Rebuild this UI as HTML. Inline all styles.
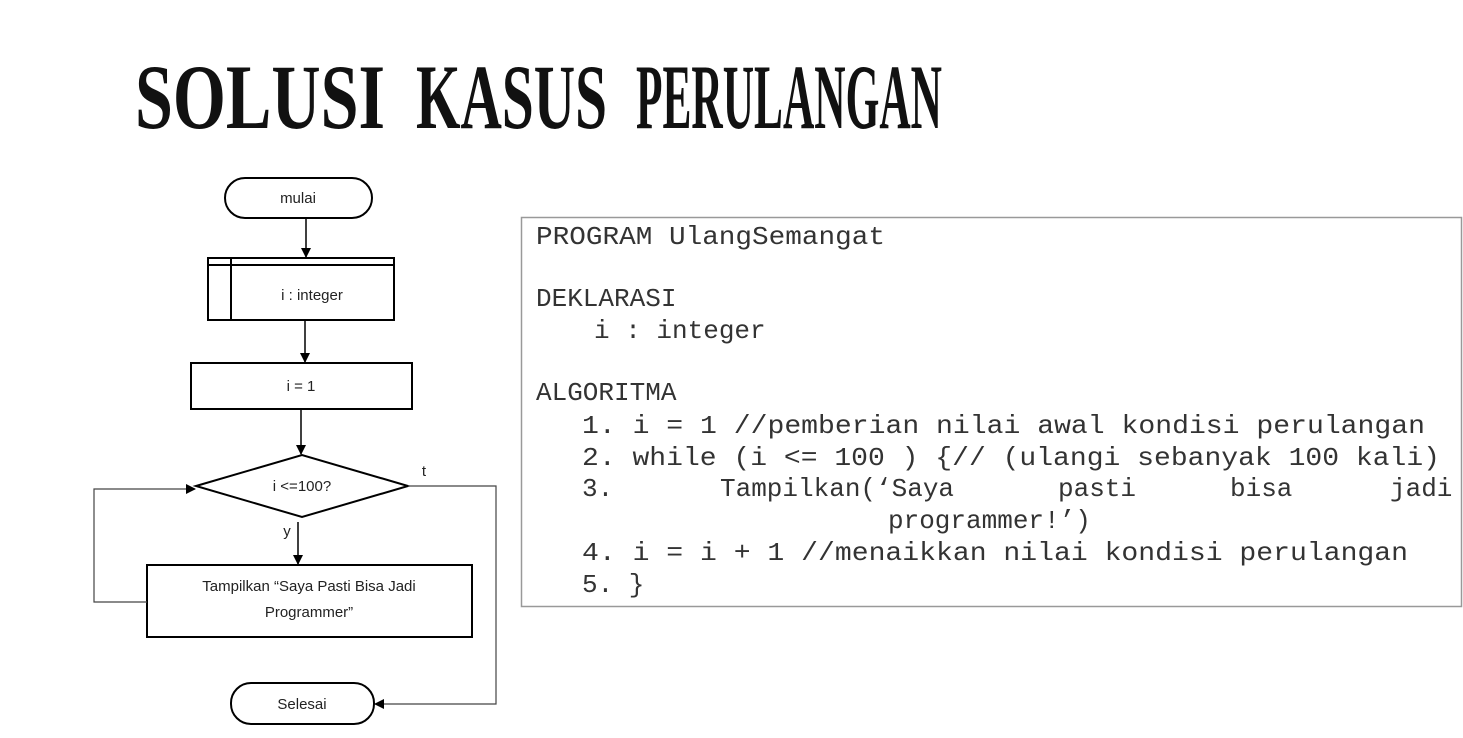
<!DOCTYPE html>
<html><head><meta charset="utf-8"><style>
html,body{margin:0;padding:0;background:#fff;width:1463px;height:738px;overflow:hidden}
</style></head><body>
<svg width="1463" height="738" xmlns="http://www.w3.org/2000/svg">
<defs><marker id="a" markerWidth="10" markerHeight="10" refX="9" refY="5" orient="auto" markerUnits="userSpaceOnUse"><path d="M0,0 L10,5 L0,10 z" fill="#000"/></marker></defs>
<g font-family="Liberation Serif, serif" font-weight="bold" font-size="92" fill="#111" lengthAdjust="spacingAndGlyphs">
<text x="135" y="128" textLength="250" lengthAdjust="spacingAndGlyphs">SOLUSI</text>
<text x="416" y="128" textLength="191" lengthAdjust="spacingAndGlyphs">KASUS</text>
<text x="636" y="128" textLength="306" lengthAdjust="spacingAndGlyphs">PERULANGAN</text>
</g>

<g fill="none" stroke="#000" stroke-width="2">
<rect x="225" y="178" width="147" height="40" rx="20"/>
<rect x="208" y="258" width="186" height="62"/>
<line x1="231" y1="258" x2="231" y2="320"/>
<line x1="208" y1="265" x2="394" y2="265"/>
<rect x="191" y="363" width="221" height="46"/>
<polygon points="196,486 302,455 408,486 302,517"/>
<rect x="147" y="565" width="325" height="72"/>
<rect x="231" y="683" width="143" height="41" rx="20"/>
</g>
<g fill="none" stroke="#000" stroke-width="1.5">
<line x1="306" y1="218" x2="306" y2="257" marker-end="url(#a)"/>
<line x1="305" y1="320" x2="305" y2="362" marker-end="url(#a)"/>
<line x1="301" y1="409" x2="301" y2="454" marker-end="url(#a)"/>
<line x1="298" y1="522" x2="298" y2="564" marker-end="url(#a)"/>
<polyline points="147,602 94,602 94,489 195,489" marker-end="url(#a)" stroke="#444" stroke-width="1.2"/>
<polyline points="408,486 496,486 496,704 375,704" marker-end="url(#a)" stroke="#444" stroke-width="1.2"/>
</g>
<g font-family="Liberation Sans, sans-serif" font-size="15" fill="#222" text-anchor="middle">
<text x="298" y="203">mulai</text>
<text x="312" y="300">i : integer</text>
<text x="301" y="391">i = 1</text>
<text x="302" y="491">i &lt;=100?</text>
<text x="309" y="591">Tampilkan “Saya Pasti Bisa Jadi</text>
<text x="309" y="617">Programmer”</text>
<text x="302" y="709">Selesai</text>
<text x="424" y="476">t</text>
<text x="287" y="536">y</text>
</g>

<rect x="521.5" y="217.5" width="940" height="389" fill="none" stroke="#999" stroke-width="1.5"/>
<g font-family="Liberation Mono, monospace" font-size="26" fill="#333" xml:space="preserve">
<text x="536" y="244" textLength="349" lengthAdjust="spacingAndGlyphs">PROGRAM UlangSemangat</text>
<text x="536" y="306">DEKLARASI</text>
<text x="594" y="338">i : integer</text>
<text x="536" y="400">ALGORITMA</text>
<text x="582" y="433" textLength="843" lengthAdjust="spacingAndGlyphs">1. i = 1 //pemberian nilai awal kondisi perulangan</text>
<text x="582" y="465" textLength="858" lengthAdjust="spacingAndGlyphs">2. while (i &lt;= 100 ) {// (ulangi sebanyak 100 kali)</text>
<text x="582" y="496">3.</text>
<text x="720" y="496">Tampilkan(‘Saya</text>
<text x="1058" y="496">pasti</text>
<text x="1230" y="496">bisa</text>
<text x="1390" y="496">jadi</text>
<text x="888" y="528">programmer!’)</text>
<text x="582" y="560" textLength="826" lengthAdjust="spacingAndGlyphs">4. i = i + 1 //menaikkan nilai kondisi perulangan</text>
<text x="582" y="592">5. }</text>
</g>
</svg>
</body></html>
